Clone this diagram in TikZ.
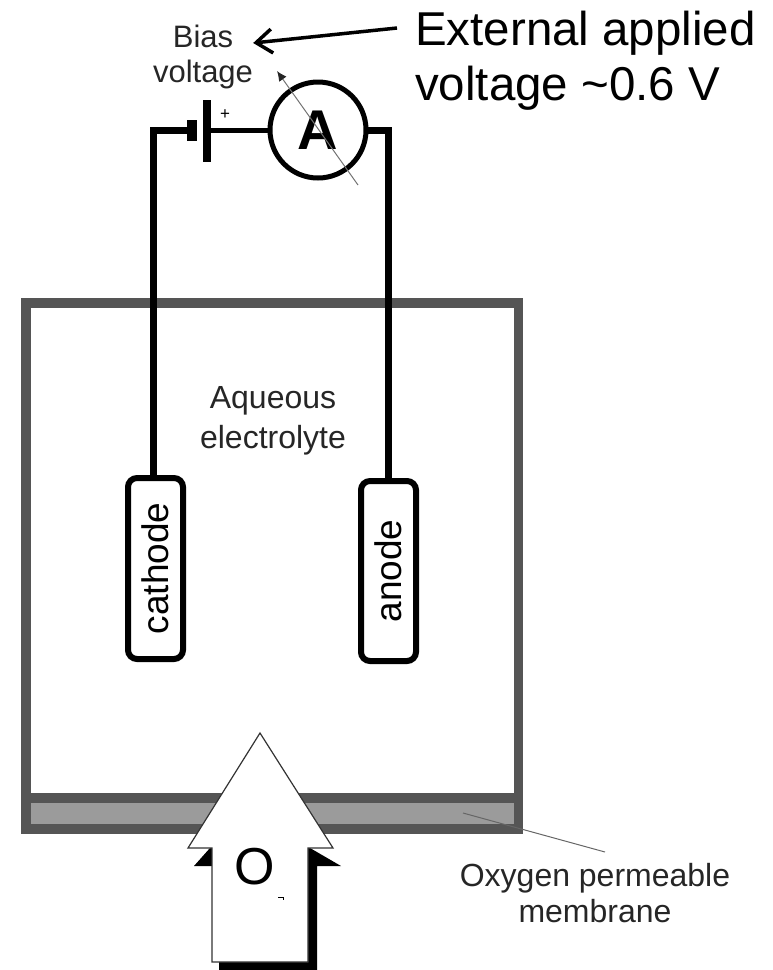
\documentclass[tikz,border=0pt]{standalone}
\usepackage{fontspec}
\setmainfont{Liberation Sans}
\usepackage{xcolor}
\usetikzlibrary{arrows.meta}
\definecolor{framegrey}{RGB}{85,85,85}
\definecolor{membranegrey}{RGB}{155,155,155}
\newcommand{\fs}[1]{\fontsize{#1}{#1}\selectfont}
\tikzstyle{electrode} = [rectangle, draw, line width=6pt, rounded corners=9pt,
  minimum width=55pt, outer sep=0pt, inner sep=0pt]
\tikzstyle{wire} = [line width=7pt, line join=miter]
\tikzstyle{plate} = [rectangle, fill=black, inner sep=0pt, outer sep=0pt]
\tikzstyle{label} = [align=center, inner sep=0pt, text=black!85]

\begin{document}
\begin{tikzpicture}[x=1pt, y=-1pt]
  \useasboundingbox (0,0) rectangle (773,970);
  % cell wall and membrane
  \fill[framegrey] (21,298) rectangle (523,834);
  \fill[white] (31,308) rectangle (514,793);
  \fill[membranegrey] (31,803) rectangle (514,824);
  % electrodes
  \node[electrode, minimum height=181pt] (cathode) at (155.5,568.5)
    {\rotatebox{90}{\fs{37}cathode}};
  \node[electrode, minimum height=180pt] (anode) at (388.5,571)
    {\rotatebox{90}{\fs{37}anode}};
  % battery and meter
  \node[plate, minimum width=10pt, minimum height=21pt] (smallplate) at (192,130) {};
  \node[plate, minimum width=8pt, minimum height=62pt] (bigplate) at (207,131) {};
  \node[circle, draw, line width=5pt, minimum size=96pt, inner sep=0pt, outer sep=0pt] (ammeter)
    at (318,130) {\fs{56}\bfseries A};
  \node[inner sep=0pt] (plus) at (225,115) {\fs{17}+};
  % wires
  \draw[wire] ([xshift=-2pt]cathode.north) |- (smallplate.west);
  \draw[wire] (anode.north) |- (ammeter.east);
  \draw[line width=5pt] (bigplate.east |- ammeter.west) -- (ammeter.west);
  % needle of the meter
  \coordinate (needlestart) at (358,185);
  \coordinate (needleend) at (277,71);
  \draw[line width=1pt, black!55, -{Latex[length=10pt, width=9pt, black!85]}] (needlestart) -- (needleend);
  % labels
  \node[label] (bias) at (203,57) {\fs{31}Bias\\[11pt]\fs{31}voltage};
  \node[label] (electrolyte) at (273,421) {\fs{32}Aqueous\\[9pt]\fs{32}electrolyte};
  \node[label, text=black, align=left, anchor=north west] (external) at (415,11)
    {\fs{47.5}External applied\\[10pt]\fs{47.5}voltage \textasciitilde 0.6 V};
  \node[label] (oxygenlabel) at (595,893) {\fs{32}Oxygen permeable\\[6pt]\fs{32}membrane};
  \draw[line width=3.5pt, -{Straight Barb[length=16pt, width=24pt]}] (397,28) -- (bias.east |- 0,43);
  % leader to the membrane
  \coordinate (leaderstart) at (463,813);
  \coordinate (leaderend) at (605,852);
  \draw[black!60, line width=1pt] (leaderstart) -- (leaderend);
  % oxygen arrow
  \fill[black] (194,866) -- (210,848) -- (310,848) -- (341,866) -- (317,866) -- (317,970)
    -- (219,970) -- (219,866) -- cycle;
  \draw[fill=white, line width=1.2pt, draw=black!80] (260,733) -- (333,848) -- (308,848) -- (308,962)
    -- (212,962) -- (212,848) -- (188,848) -- cycle;
  \node[inner sep=0pt] (oxygen) at (255,867) {\fs{52}O};
  \draw[line width=0.8pt] (278,897) -- (283,897) -- (283,900);
\end{tikzpicture}
\end{document}
